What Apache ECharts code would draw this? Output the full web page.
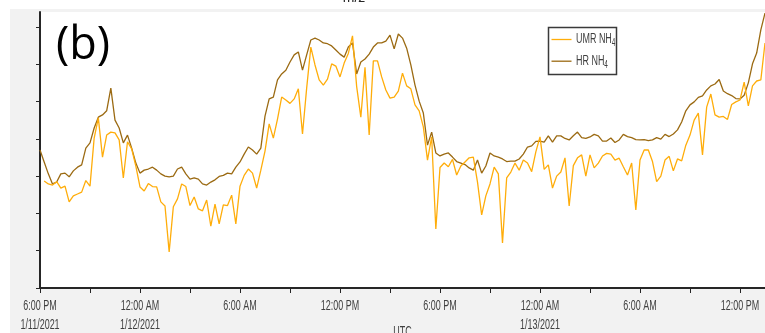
<!DOCTYPE html>
<html>
<head>
<meta charset="utf-8">
<script src="https://cdn.jsdelivr.net/npm/echarts@6/dist/echarts.min.js"></script>
<style>
  html, body { margin: 0; padding: 0; background: #ffffff; }
  #chart { width: 765px; height: 333px; }
</style>
</head>
<body>
<div id="chart"></div>
<script>
// Sampling: one value every 15 minutes starting 2021-01-11 18:00 UTC
const stepHours = 0.25;
const spanHours = 43.5;

// x-axis tick labels, one every 6 hours from the start
const tickLabels = [
  '6:00 PM\n1/11/2021', '12:00 AM\n1/12/2021', '6:00 AM', '12:00 PM',
  '6:00 PM', '12:00 AM\n1/13/2021', '6:00 AM', '12:00 PM'
];

// HR NH4 signal (arbitrary units)
const hrNH4 = [
  3.70, 3.38, 3.06, 2.79, 2.84, 3.06, 3.08, 2.98, 3.14, 3.24,
  3.30, 3.75, 3.89, 4.29, 4.58, 4.64, 4.75, 5.36, 4.50, 4.29,
  3.89, 4.10, 3.75, 3.35, 3.08, 3.16, 3.19, 3.24, 3.16, 3.06,
  3.00, 2.98, 3.00, 3.19, 3.24, 3.06, 2.92, 2.95, 2.92, 2.79,
  2.76, 2.84, 2.90, 2.99, 3.02, 3.08, 3.06, 3.24, 3.38, 3.59,
  3.78, 3.70, 3.59, 3.75, 4.61, 5.07, 5.12, 5.58, 5.74, 5.84,
  6.06, 6.25, 6.33, 5.84, 6.25, 6.65, 6.70, 6.65, 6.57, 6.55,
  6.49, 6.38, 6.27, 6.19, 6.46, 6.57, 5.74, 6.06, 6.14, 6.27,
  6.46, 6.57, 6.57, 6.62, 6.78, 6.41, 6.81, 6.70, 6.43, 5.98,
  5.44, 5.01, 4.69, 3.83, 4.18, 3.62, 3.54, 3.59, 3.62, 3.51,
  3.39, 3.35, 3.31, 3.22, 3.16, 3.43, 3.08, 3.27, 3.62, 3.54,
  3.51, 3.46, 3.39, 3.40, 3.40, 3.46, 3.59, 3.78, 3.81, 3.93,
  3.94, 3.91, 4.08, 3.91, 4.08, 4.08, 4.01, 3.97, 4.08, 4.18,
  4.03, 4.01, 4.05, 4.12, 4.08, 3.94, 3.94, 4.02, 3.90, 3.97,
  4.12, 4.06, 4.03, 3.98, 3.97, 3.98, 3.95, 3.97, 4.03, 3.99,
  4.12, 4.06, 4.13, 4.24, 4.45, 4.75, 4.91, 4.99, 5.11, 5.15,
  5.31, 5.42, 5.47, 5.59, 5.28, 5.21, 5.16, 5.08, 5.07, 5.17,
  5.50, 6.01, 6.30, 6.92, 7.37
];

// UMR NH4 signal (arbitrary units)
const umrNH4 = [
  null, 2.87, 2.79, 2.76, 2.85, 2.68, 2.73, 2.31, 2.47, 2.52,
  2.57, 2.88, 2.73, 4.02, 4.56, 3.51, 4.10, 4.18, 4.16, 3.97,
  2.95, 3.92, 3.73, 3.27, 2.71, 2.60, 2.80, 2.72, 2.71, 2.31,
  2.20, 0.97, 2.18, 2.39, 2.79, 2.72, 2.21, 2.44, 2.12, 2.07,
  2.36, 1.66, 2.25, 1.72, 2.23, 2.21, 2.49, 1.72, 2.73, 3.02,
  3.19, 3.08, 2.68, 3.16, 3.67, 4.40, 4.02, 4.53, 5.12, 5.04,
  4.95, 5.07, 5.34, 4.13, 5.36, 6.46, 5.98, 5.58, 5.44, 5.60,
  6.01, 5.95, 5.66, 6.03, 6.29, 6.76, 5.40, 4.58, 5.92, 4.10,
  6.09, 6.09, 5.66, 5.31, 5.09, 5.12, 5.28, 5.76, 5.42, 5.34,
  4.91, 4.75, 4.32, 3.43, 4.05, 1.58, 3.23, 3.35, 3.25, 3.45,
  3.03, 3.27, 3.38, 3.49, 3.51, 2.84, 1.96, 2.47, 2.79, 3.24,
  3.06, 1.21, 2.95, 3.11, 3.35, 3.16, 3.43, 3.35, 3.12, 3.65,
  4.05, 3.18, 3.30, 2.68, 3.00, 3.11, 3.49, 2.20, 3.28, 3.49,
  3.57, 3.00, 3.57, 3.22, 3.35, 3.54, 3.61, 3.59, 3.43, 3.48,
  3.25, 3.03, 3.35, 2.09, 3.43, 3.70, 3.70, 3.39, 2.85, 3.00,
  3.43, 3.53, 3.14, 3.46, 3.41, 3.83, 4.10, 4.50, 4.69, 3.57,
  4.85, 5.20, 4.64, 4.58, 4.60, 4.52, 4.92, 4.99, 5.04, 5.52,
  4.88, 5.42, 5.55, 5.58, 6.57
];

const seriesNames = ['UMR NH4', 'HR NH4'];
const seriesColors = { 'UMR NH4': '#ffad0a', 'HR NH4': '#9b6a12' };

const toPairs = arr => arr.map((v, i) => [i * stepHours, v]);

// condensed label text: regular sans squeezed horizontally
const labelFont = '14px "Liberation Sans", Arial, sans-serif';
const squeeze = 0.64;
const textColor = '#404040';

function condensedText(x, y, text, align, extra) {
  return Object.assign({
    type: 'text', x: x, y: y, z: 20, scaleX: squeeze, silent: true,
    style: { text: text, x: 0, y: 0, font: labelFont, fill: textColor,
             textAlign: align || 'center', textVerticalAlign: 'middle' }
  }, extra || {});
}

const chart = echarts.init(document.getElementById('chart'), null, { renderer: 'canvas' });

chart.setOption({
  backgroundColor: '#ffffff',
  animation: false,
  grid: {
    left: 40, top: 12, right: 0, bottom: 45,
    outerBoundsMode: 'none', containLabel: false,
    show: true, backgroundColor: '#ffffff', borderWidth: 0
  },
  xAxis: {
    type: 'value',
    min: 0, max: spanHours,
    axisLine: { show: true, lineStyle: { color: '#262626', width: 2 } },
    axisTick: { show: true, length: 5, lineStyle: { color: '#262626', width: 1 },
      customValues: [0, 3, 6, 9, 12, 15, 18, 21, 24, 27, 30, 33, 36, 39, 42] },
    axisLabel: { show: false },
    splitLine: { show: false }
  },
  yAxis: {
    type: 'value',
    min: 0, max: 7.4,
    axisLine: { show: true, lineStyle: { color: '#262626', width: 2 } },
    axisTick: { show: true, length: 4, lineStyle: { color: '#262626', width: 1 },
      customValues: [0, 1, 2, 3, 4, 5, 6, 7] },
    axisLabel: { show: false },
    splitLine: { show: false }
  },
  series: [
    {
      name: 'HR NH4', type: 'line', data: toPairs(hrNH4),
      symbol: 'none', lineStyle: { color: seriesColors['HR NH4'], width: 1.3 },
      itemStyle: { color: seriesColors['HR NH4'] }
    },
    {
      name: 'UMR NH4', type: 'line', data: toPairs(umrNH4),
      symbol: 'none', lineStyle: { color: seriesColors['UMR NH4'], width: 1.3 },
      itemStyle: { color: seriesColors['UMR NH4'] }
    }
  ]
});

// Frame, panel title, time labels and legend, placed from the axis scales
const xPix = v => chart.convertToPixel({ xAxisIndex: 0 }, v);
const yPix = v => chart.convertToPixel({ yAxisIndex: 0 }, v);
const axisY = yPix(0);

const graphics = [
  {
    type: 'rect', z: -10, silent: true,
    shape: { x: 10, y: 9, width: 755, height: 324 },
    style: { fill: '#f2f2f2' }
  },
  {
    type: 'text', z: 10, left: 56, top: 24, silent: true,
    style: { text: '(b)', font: '45px "Open Sans", "Noto Sans", sans-serif', fill: '#000000' }
  },
  {
    type: 'text', x: 354, y: -2, z: 20, silent: true,
    style: { text: 'm/z', x: 0, y: 0, font: labelFont, fill: '#262626',
             textAlign: 'center', textVerticalAlign: 'middle' }
  },
  condensedText((xPix(0) + xPix(spanHours)) / 2, axisY + 44, 'UTC', 'center')
];

tickLabels.forEach((lbl, k) => {
  const x = xPix(k * 6);
  lbl.split('\n').forEach((line, j) => {
    graphics.push(condensedText(x, axisY + 18.5 + j * 19, line, 'center'));
  });
});

// legend box with line samples and NH4 labels
const lg = { x: 548.5, y: 27.5, w: 68, h: 47 };
graphics.push({
  type: 'rect', z: 20, silent: true,
  shape: { x: lg.x, y: lg.y, width: lg.w, height: lg.h },
  style: { fill: '#ffffff', stroke: '#3a3a3a', lineWidth: 1.5 }
});
seriesNames.forEach((name, k) => {
  const cy = lg.y + 12 + k * 21.7;
  graphics.push({
    type: 'line', z: 21, silent: true,
    shape: { x1: lg.x + 3, y1: cy, x2: lg.x + 23, y2: cy },
    style: { stroke: seriesColors[name], lineWidth: 1.3 }
  });
  graphics.push({
    type: 'text', x: lg.x + 27.5, y: cy, z: 21, scaleX: squeeze, silent: true,
    style: {
      text: '{t|' + name.slice(0, -1) + '}{s|' + name.slice(-1) + '}',
      x: 0, y: 0, textAlign: 'left', textVerticalAlign: 'middle',
      rich: {
        t: { font: labelFont, fill: textColor },
        s: { font: '10px "Liberation Sans", Arial, sans-serif', fill: textColor, padding: [8, 0, 0, 0] }
      }
    }
  });
});

chart.setOption({ graphic: graphics });
</script>
</body>
</html>
